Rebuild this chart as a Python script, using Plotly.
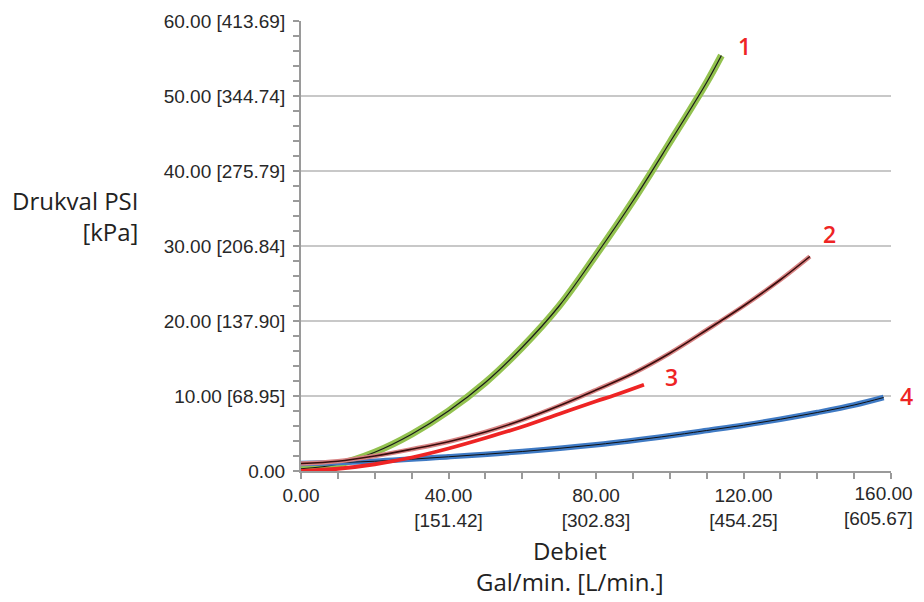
import plotly.graph_objects as go

# Curve 1 (green)
x1 = [0, 10, 20, 30, 40, 50, 60, 70, 80, 90, 100, 110, 114]
y1 = [0.3, 0.9, 2.5, 4.9, 8.0, 11.8, 16.5, 22.0, 28.8, 36.0, 43.8, 51.8, 55.4]
# Curve 2 (dark red)
x2 = [0, 10, 20, 30, 40, 50, 60, 70, 80, 90, 100, 110, 120, 130, 138]
y2 = [1.0, 1.3, 2.0, 2.9, 3.9, 5.2, 6.8, 8.7, 10.8, 13.0, 15.7, 18.8, 22.0, 25.5, 28.6]
# Curve 3 (red)
x3 = [0, 10, 20, 30, 40, 50, 60, 70, 80, 85, 93]
y3 = [0.0, 0.3, 0.9, 1.8, 3.0, 4.4, 5.9, 7.6, 9.3, 10.1, 11.5]
# Curve 4 (blue)
x4 = [0, 20, 40, 60, 80, 100, 110, 120, 130, 140, 150, 158]
y4 = [1.0, 1.3, 1.9, 2.6, 3.5, 4.7, 5.4, 6.1, 6.9, 7.8, 8.8, 9.8]

y_tickvals = [0, 10, 20, 30, 40, 50, 60]
y_ticktext = ["0.00", "10.00 [68.95]", "20.00 [137.90]", "30.00 [206.84]",
              "40.00 [275.79]", "50.00 [344.74]", "60.00 [413.69]"]
x_tickvals = [0, 40, 80, 120, 160]
x_ticktext = ["0.00", "40.00<br>[151.42]", "80.00<br>[302.83]",
              "120.00<br>[454.25]", ""]
x_last_label = "160.00<br>[605.67]"

labels = ["1", "2", "3", "4"]
label_x = [120.4, 143.2, 100.6, 164.3]
label_y = [56.6, 31.6, 12.5, 10.0]

X_MAX, Y_MAX = 160, 60

fig = go.Figure()
fig.add_trace(go.Scatter(x=x1, y=y1, mode="lines", line=dict(color="#93c24f", width=7, shape="spline"), hoverinfo="skip"))
fig.add_trace(go.Scatter(x=x1, y=y1, mode="lines", line=dict(color="#1a1a1a", width=1.2, shape="spline")))
fig.add_trace(go.Scatter(x=x4, y=y4, mode="lines", line=dict(color="#3f7ac4", width=5.5, shape="spline"), hoverinfo="skip"))
fig.add_trace(go.Scatter(x=x4, y=y4, mode="lines", line=dict(color="#111111", width=1.0, shape="spline")))
fig.add_trace(go.Scatter(x=x2, y=y2, mode="lines", line=dict(color="#d88484", width=4.5, shape="spline"), hoverinfo="skip"))
fig.add_trace(go.Scatter(x=x2, y=y2, mode="lines", line=dict(color="#3a0d0d", width=1.6, shape="spline")))
fig.add_trace(go.Scatter(x=x3, y=y3, mode="lines", line=dict(color="#ee2424", width=3.8, shape="spline")))

for t, lx, ly in zip(labels, label_x, label_y):
    fig.add_annotation(x=lx / X_MAX, y=ly / Y_MAX, xref="paper", yref="paper", text=t, showarrow=False,
                       xanchor="center", yanchor="middle",
                       font=dict(family="Open Sans", size=23, color="#ee2424", weight=600))

# last x tick label, right-aligned at the right edge as in the reference
fig.add_annotation(xref="paper", yref="paper", x=1.04, y=-0.022, xanchor="right", yanchor="top",
                   align="right", text=x_last_label, showarrow=False,
                   font=dict(family="Liberation Sans", size=19, color="#282828"))

fig.add_annotation(xref="paper", yref="paper", x=-0.273, y=0.567, xanchor="right", yanchor="middle",
                   align="right", text="Drukval PSI<br>[kPa]", showarrow=False,
                   font=dict(family="Open Sans", size=24, color="#222222"))
fig.add_annotation(xref="paper", yref="paper", x=0.456, y=-0.21, xanchor="center", yanchor="middle",
                   align="center", text="Debiet<br>Gal/min. [L/min.]", showarrow=False,
                   font=dict(family="Open Sans", size=24, color="#222222"))

# page body has an 8px margin; figure sized/positioned to compensate
fig.update_layout(
    width=916, height=594,
    margin=dict(l=293, r=33, t=13, b=131),
    plot_bgcolor="white", paper_bgcolor="white",
    showlegend=False,
    font=dict(family="Liberation Sans", size=19, color="#282828"),
)
fig.update_xaxes(range=[0, X_MAX], tickvals=x_tickvals, ticktext=x_ticktext, automargin=False,
                 ticklabeloverflow="allow",
                 showgrid=False, zeroline=False, showline=True, linecolor="#9a9a9a", linewidth=2,
                 ticks="outside", ticklen=6, tickcolor="#9a9a9a", tickwidth=1.5,
                 minor=dict(dtick=10, ticks="outside", ticklen=6, tickcolor="#9a9a9a", tickwidth=1.5, showgrid=False),
                 fixedrange=True)
fig.update_yaxes(range=[0, Y_MAX], tickvals=y_tickvals, ticktext=y_ticktext, automargin=False,
                 ticklabeloverflow="allow",
                 showgrid=True, gridcolor="#c8c8c8", gridwidth=2, zeroline=False,
                 showline=True, linecolor="#9a9a9a", linewidth=2,
                 ticks="outside", ticklen=6, tickcolor="#9a9a9a", tickwidth=1.5, ticklabelstandoff=4,
                 minor=dict(dtick=2, ticks="outside", ticklen=6, tickcolor="#9a9a9a", tickwidth=1.5, showgrid=False),
                 fixedrange=True)

fig.write_html("out.html")
